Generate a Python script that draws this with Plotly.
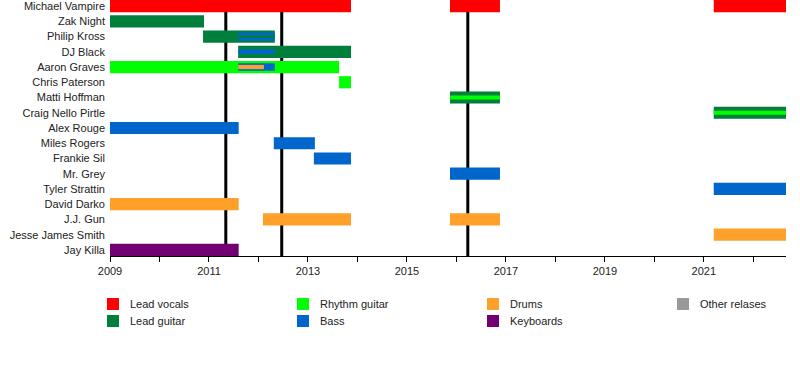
import plotly.graph_objects as go

# ---------------- data ----------------
members = [
    "Michael Vampire", "Zak Night", "Philip Kross", "DJ Black", "Aaron Graves",
    "Chris Paterson", "Matti Hoffman", "Craig Nello Pirtle", "Alex Rouge",
    "Miles Rogers", "Frankie Sil", "Mr. Grey", "Tyler Strattin", "David Darko",
    "J.J. Gun", "Jesse James Smith", "Jay Killa",
]

END = 2022.66  # "present"

# main roles: (member, start, end)
lead_vocals = [("Michael Vampire", 2009.0, 2013.87),
               ("Michael Vampire", 2015.87, 2016.88),
               ("Michael Vampire", 2021.2, END)]
lead_guitar = [("Zak Night", 2009.0, 2010.9),
               ("Philip Kross", 2010.88, 2012.33),
               ("DJ Black", 2011.59, 2013.87),
               ("Matti Hoffman", 2015.87, 2016.88),
               ("Craig Nello Pirtle", 2021.2, END)]
rhythm_guitar = [("Aaron Graves", 2009.0, 2013.63),
                 ("Chris Paterson", 2013.63, 2013.87)]
bass = [("Alex Rouge", 2009.0, 2011.6),
        ("Miles Rogers", 2012.31, 2013.14),
        ("Frankie Sil", 2013.12, 2013.87),
        ("Mr. Grey", 2015.87, 2016.88),
        ("Tyler Strattin", 2021.2, END)]
drums = [("David Darko", 2009.0, 2011.6),
         ("J.J. Gun", 2012.09, 2013.87),
         ("J.J. Gun", 2015.87, 2016.88),
         ("Jesse James Smith", 2021.2, END)]
keyboards = [("Jay Killa", 2009.0, 2011.6)]

# secondary roles: (member, start, end)
bass_secondary = [("Philip Kross", 2011.59, 2012.33),
                  ("Aaron Graves", 2011.59, 2012.33),
                  ("DJ Black", 2011.59, 2012.33)]
rhythm_secondary = [("Matti Hoffman", 2015.87, 2016.88),
                    ("Craig Nello Pirtle", 2021.2, END)]
lead_guitar_secondary = [("Philip Kross", 2011.59, 2012.33)]
drums_secondary = [("Aaron Graves", 2011.59, 2012.11)]

releases = [2011.34, 2012.47, 2016.23]

x_ticks = [2009, 2011, 2013, 2015, 2017, 2019, 2021]

legend_roles = ["Lead vocals", "Lead guitar", "Rhythm guitar", "Bass",
                "Drums", "Keyboards", "Other relases"]

# ---------------- styles ----------------
colors = {
    "Lead vocals": "#ff0000",
    "Lead guitar": "#007f3c",
    "Rhythm guitar": "#00ff00",
    "Bass": "#0066cc",
    "Drums": "#ffa02a",
    "Keyboards": "#730073",
    "Other relases": "#999999",
}

W, H = 800, 376
ML, MR, MT, MB = 110, 14, 0, 120
PW, PH = W - ML - MR, H - MT - MB

fig = go.Figure()


def add_bars(spans, role, width_fn):
    fig.add_trace(go.Bar(
        orientation="h",
        y=[s[0] for s in spans],
        base=[s[1] for s in spans],
        x=[s[2] - s[1] for s in spans],
        width=[width_fn(s) for s in spans],
        marker=dict(color=colors[role], line=dict(width=0)),
        name=role,
        showlegend=False,
        hoverinfo="skip",
    ))


# full bars
for role, spans in [("Lead vocals", lead_vocals), ("Lead guitar", lead_guitar),
                    ("Rhythm guitar", rhythm_guitar), ("Bass", bass),
                    ("Drums", drums), ("Keyboards", keyboards)]:
    add_bars(spans, role, lambda s: 0.8)

# secondary bars
sec_w = {"Philip Kross": 0.55, "Aaron Graves": 0.5, "DJ Black": 0.3}
add_bars(bass_secondary, "Bass", lambda s: sec_w[s[0]])
add_bars(rhythm_secondary, "Rhythm guitar", lambda s: 0.25)
add_bars(lead_guitar_secondary, "Lead guitar", lambda s: 0.18)
add_bars(drums_secondary, "Drums", lambda s: 0.28)

for r in releases:
    fig.add_shape(type="line", xref="x", yref="paper", x0=r, x1=r, y0=0, y1=1,
                  line=dict(color="black", width=3), layer="below")


# manual legend (pixel layout converted to paper coordinates)
def px_x(p):
    return (p - ML) / PW


def px_y(p):
    return 1 - (p - MT) / PH


for i, role in enumerate(legend_roles):
    col, row = i // 2, i % 2
    sx = 107 + 190 * col
    cy = 304 + 17 * row
    fig.add_shape(type="rect", xref="paper", yref="paper",
                  x0=px_x(sx), x1=px_x(sx + 12), y0=px_y(cy + 6), y1=px_y(cy - 6),
                  fillcolor=colors[role], line=dict(width=0), layer="above")
    fig.add_annotation(xref="paper", yref="paper", x=px_x(sx + 21), y=px_y(cy),
                       xanchor="left", yanchor="middle", text=role, showarrow=False,
                       font=dict(size=11, color="#222"))

fig.update_layout(
    width=W, height=H,
    margin=dict(l=ML, r=MR, t=MT, b=MB),
    barmode="overlay",
    plot_bgcolor="white", paper_bgcolor="white",
    font=dict(family="Liberation Sans, Arial, sans-serif", size=11, color="#222"),
    showlegend=False,
    xaxis=dict(range=[2009, END], tickvals=x_ticks, ticktext=[str(t) for t in x_ticks],
               ticks="outside", ticklen=5, tickcolor="black", automargin=False,
               minor=dict(tickvals=list(range(2010, 2023)), ticks="outside", ticklen=5,
                          tickcolor="black"),
               showline=True, linecolor="black", linewidth=1, showgrid=False,
               zeroline=False, tickfont=dict(size=11)),
    yaxis=dict(categoryorder="array", categoryarray=members, automargin=False,
               range=[16.4, -0.4], showgrid=False, zeroline=False,
               showline=False, ticks="", tickfont=dict(size=11),
               ticklabelstandoff=4),
)

fig.write_html("out.html", config={"displayModeBar": False},
               post_script="document.body.style.margin='0px';")
